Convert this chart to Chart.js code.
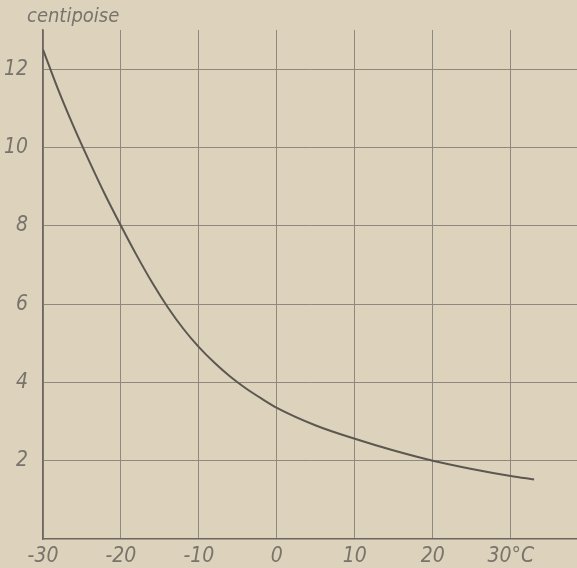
<!DOCTYPE html>
<html>
<head>
<meta charset="utf-8">
<script src="https://cdn.jsdelivr.net/npm/chart.js@4"></script>
<style>
  html, body { margin: 0; padding: 0; background: #ddd2bc; }
  canvas { display: block; }
</style>
</head>
<body>
<canvas id="grafico" width="577" height="568"></canvas>
<script>
// Viscosidad (centipoise) frente a temperatura (°C)
const temperaturas = [-30, -28, -26, -24, -22, -20, -18, -16, -14, -12, -10, -8, -6, -4, -2, 0, 5, 10, 15, 20, 25, 30, 33];
const viscosidad   = [12.5, 11.45, 10.5, 9.62, 8.78, 8.0, 7.25, 6.55, 5.92, 5.37, 4.9, 4.5, 4.15, 3.85, 3.59, 3.35, 2.9, 2.56, 2.26, 2.0, 1.79, 1.61, 1.52];

const ticksX = [-30, -20, -10, 0, 10, 20, 30];
const ticksY = [2, 4, 6, 8, 10, 12];

const colorTexto = '#78746b';
const colorRejilla = '#8e887d';
const fuente = "'DejaVu Sans Condensed', 'Liberation Sans Narrow', 'Liberation Sans', sans-serif";

// Rótulo de unidades arriba a la izquierda
const rotuloUnidad = {
  id: 'rotuloUnidad',
  afterDraw(chart) {
    const ctx = chart.ctx;
    ctx.save();
    ctx.fillStyle = colorTexto;
    ctx.font = 'italic 20px ' + fuente;
    ctx.textBaseline = 'middle';
    ctx.textAlign = 'left';
    ctx.fillText('centipoise', 27, 17);
    ctx.restore();
  }
};

new Chart(document.getElementById('grafico'), {
  type: 'line',
  data: {
    datasets: [{
      data: temperaturas.map((t, i) => ({ x: t, y: viscosidad[i] })),
      borderColor: '#5c5851',
      borderWidth: 2,
      pointRadius: 0,
      cubicInterpolationMode: 'monotone',
      fill: false
    }]
  },
  options: {
    responsive: false,
    animation: false,
    layout: { padding: { top: 30, right: 0, left: 0, bottom: 0 } },
    plugins: { legend: { display: false }, tooltip: { enabled: false } },
    scales: {
      x: {
        type: 'linear',
        min: -30,
        max: 38.5,
        afterBuildTicks: (s) => { s.ticks = ticksX.map(v => ({ value: v })); },
        afterFit: (s) => { s.height = 29; },
        grid: { color: colorRejilla, lineWidth: 1, drawTicks: false },
        border: { color: '#6c675e', width: 1.5 },
        ticks: {
          color: colorTexto,
          padding: 5,
          maxRotation: 0,
          font: { family: fuente, size: 21, style: 'italic' },
          callback: (v) => v === 30 ? '30°C' : String(v)
        }
      },
      y: {
        min: 0,
        max: 13,
        afterBuildTicks: (s) => { s.ticks = ticksY.map(v => ({ value: v })); },
        afterFit: (s) => { s.width = 43; },
        grid: { color: colorRejilla, lineWidth: 1, drawTicks: false },
        border: { color: '#6c675e', width: 1.5 },
        ticks: {
          color: colorTexto,
          padding: 15,
          font: { family: fuente, size: 21, style: 'italic' }
        }
      }
    }
  },
  plugins: [rotuloUnidad]
});
</script>
</body>
</html>
